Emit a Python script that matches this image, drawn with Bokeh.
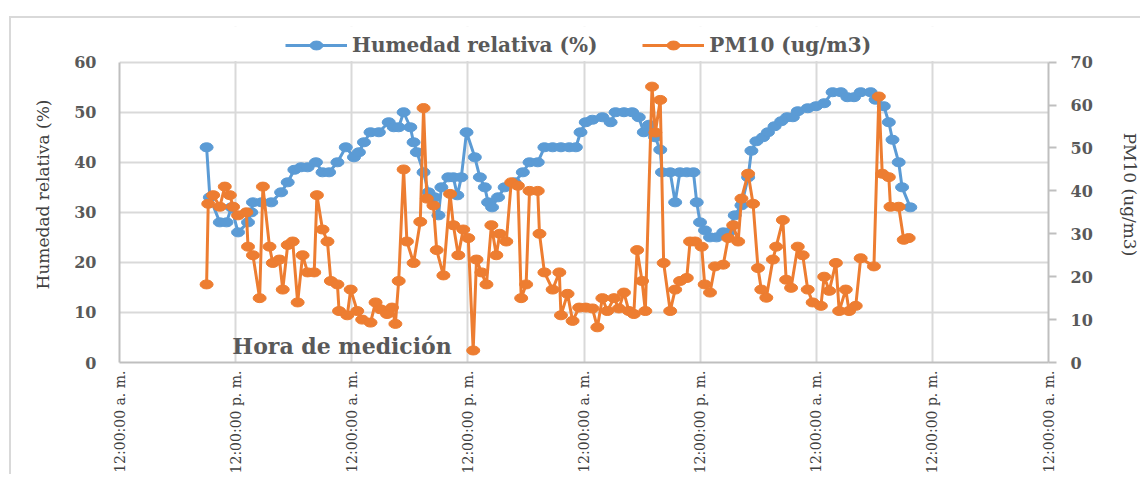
from math import pi
from bokeh.plotting import figure
from bokeh.models import (Range1d, LinearAxis, FixedTicker, Label, Legend, LegendItem,
                          ColumnDataSource, BoxAnnotation)
from bokeh.embed import file_html
from bokeh.resources import INLINE

# ---- data ----
tick_hours = [0, 12, 24, 36, 48, 60, 72, 84, 96]
tick_labels = ["12:00:00 a. m.", "12:00:00 p. m.", "12:00:00 a. m.", "12:00:00 p. m.",
               "12:00:00 a. m.", "12:00:00 p. m.", "12:00:00 a. m.", "12:00:00 p. m.",
               "12:00:00 a. m."]
hum_ticks = [0, 10, 20, 30, 40, 50, 60]
pm_ticks = [0, 10, 20, 30, 40, 50, 60, 70]

horas_hum = [9.00, 9.34, 10.37, 11.06, 11.57, 12.25, 13.28, 13.62, 13.79, 14.68, 15.68, 16.70,
             17.38, 18.07, 18.76, 19.44, 20.30, 20.98, 21.66, 22.52, 23.38, 24.23, 24.74, 25.26,
             25.94, 26.80, 27.82, 28.34, 28.85, 29.36, 30.05, 30.39, 30.73, 31.42, 31.93, 32.55,
             32.96, 33.26, 33.98, 34.50, 34.91, 35.32, 35.86, 36.72, 37.24, 37.75, 38.09, 38.50,
             39.12, 39.80, 40.83, 41.68, 42.37, 43.22, 43.91, 44.76, 45.62, 46.48, 47.16, 47.64,
             48.18, 48.87, 49.90, 50.75, 51.26, 52.13, 52.98, 53.66, 54.18, 54.72, 55.34, 55.88,
             56.06, 56.91, 57.42, 57.91, 58.62, 59.31, 59.65, 59.99, 60.50, 61.02, 61.70, 62.39,
             62.94, 63.58, 64.27, 64.96, 65.30, 65.81, 66.50, 67.01, 67.69, 68.38, 68.99, 69.58,
             70.09, 71.12, 71.97, 72.82, 73.69, 74.54, 75.22, 75.90, 76.59, 77.62, 78.13, 78.98,
             79.50, 79.88, 80.52, 80.87, 81.72]
humedad = [43, 33, 28, 28, 31, 26, 28, 30, 32, 32, 32, 34,
           36, 38.5, 39, 39, 40, 38, 38, 40, 43, 41, 42, 44,
           46, 46, 48, 47, 47, 50, 47, 44, 42, 38, 34, 33,
           29.4, 35, 37, 37, 33.4, 37, 46, 41, 37, 35, 32, 31,
           33, 35, 36, 38, 40, 40, 43, 43, 43, 43, 43, 46,
           48, 48.5, 49, 48, 50, 50, 50, 49, 46, 47.5, 45, 42.5,
           38, 38, 32, 38, 38, 38, 32, 28, 26.4, 25, 25, 26,
           26, 29.4, 31.4, 37, 42.3, 44.2, 45, 46, 47.2, 48.2, 49, 49,
           50.2, 50.8, 51.2, 51.8, 54, 54, 53, 53, 54, 54, 52.5, 51.2,
           48, 44.5, 40, 35, 31]

horas_pm = [9.00, 9.17, 9.68, 10.37, 10.88, 11.40, 11.74, 12.25, 13.11, 13.28, 13.79, 14.48,
            14.82, 15.50, 15.84, 16.53, 16.87, 17.38, 17.90, 18.41, 18.92, 19.44, 20.12, 20.40,
            20.98, 21.49, 21.84, 22.52, 22.69, 23.54, 23.89, 24.57, 25.08, 25.94, 26.46, 26.97,
            27.65, 28.16, 28.51, 28.85, 29.36, 29.70, 30.39, 31.08, 31.42, 31.76, 32.44, 32.78,
            33.47, 34.16, 34.50, 35.01, 35.52, 36.04, 36.55, 36.89, 37.40, 37.92, 38.43, 38.94,
            39.29, 39.97, 40.48, 41.17, 41.51, 42.02, 42.37, 43.22, 43.40, 43.91, 44.76, 45.45,
            45.62, 46.30, 46.82, 47.50, 48.18, 48.87, 49.38, 49.90, 50.41, 51.10, 51.61, 52.13,
            52.64, 53.15, 53.49, 54.00, 54.34, 55.03, 55.37, 55.88, 56.23, 56.91, 57.42, 57.93,
            58.62, 58.96, 59.48, 60.16, 60.47, 61.02, 61.53, 62.39, 62.90, 63.42, 63.93, 64.27,
            64.96, 65.47, 65.98, 66.32, 66.84, 67.52, 67.86, 68.55, 68.89, 69.40, 70.09, 70.60,
            71.12, 71.63, 72.48, 72.82, 73.34, 74.03, 74.37, 75.05, 75.39, 76.08, 76.59, 77.96,
            78.47, 78.82, 79.50, 79.67, 80.52, 81.04, 81.55]
pm10 = [18.2, 37, 39, 36.3, 41, 39, 36.3, 34.3, 35, 27, 25, 15,
        41, 27, 23.2, 24, 17, 27.4, 28.2, 14, 25, 21, 21, 39,
        31, 28.2, 19, 18.2, 12, 11, 17, 12, 10, 9.3, 14, 12.4,
        11.3, 12.8, 9, 19, 45, 28.2, 23.2, 32.8, 59.3, 38.2, 36.6, 26.2,
        20.3, 39.3, 32, 25, 31, 29, 2.8, 24, 21, 18.2, 32, 25,
        30, 28.2, 42, 41.2, 15, 18.2, 40, 40, 30, 21, 17, 21,
        11, 16, 9.7, 12.8, 12.8, 12.6, 8.2, 15, 12, 15, 12.6, 16.3,
        12, 11.3, 26.2, 19, 12, 64.3, 53.6, 61.2, 23.2, 12, 17, 19,
        19.7, 28.2, 28.2, 27, 18.2, 16.3, 22.4, 22.8, 29, 32, 28.2, 38.2,
        44, 37, 22, 17, 15.1, 24, 27, 33.2, 19.3, 17.4, 27, 25,
        17, 14, 13.2, 20, 16.7, 23.2, 12, 17, 12, 13.2, 24.3, 22.4,
        62, 44, 43.2, 36.3, 36.3, 28.6, 29]

# ---- styles / layout ----
BLUE = "#5b9bd5"
ORANGE = "#ed7d31"
GRID = "#d9d9d9"
AXIS = "#bfbfbf"
TXT = "#595959"
FONT = "DejaVu Serif"

HUM_MAX, PM_MAX = 60, 70
# the frame reaches above the 60 line so that the legend can sit over the plot area
EXTRA = 339 / 303
p = figure(width=1131, height=458, output_backend="svg", toolbar_location=None,
           x_range=Range1d(0, 96), y_range=Range1d(0, HUM_MAX * EXTRA),
           min_border_left=108, min_border_right=88, min_border_top=8, min_border_bottom=100,
           margin=(16, 0, 0, 9), background_fill_color="white", border_fill_color="white")
p.styles = {"border-left": "2px solid #d9d9d9", "border-top": "2px solid #d9d9d9"}
p.outline_line_color = None
p.extra_y_ranges = {"pm": Range1d(0, PM_MAX * EXTRA)}

# x axis
xa = p.xaxis[0]
xa.ticker = FixedTicker(ticks=tick_hours)
xa.major_label_overrides = {h: lab for h, lab in zip(tick_hours, tick_labels)}
xa.major_label_orientation = pi / 2
xa.major_label_text_font = FONT
xa.major_label_text_font_size = "14px"
xa.major_label_text_color = "#404040"
xa.major_label_standoff = 8
xa.major_tick_out = 0
xa.major_tick_in = 0
xa.minor_tick_line_color = None
xa.axis_line_color = AXIS
xa.axis_line_width = 2

# left axis
ya = p.yaxis[0]
ya.ticker = FixedTicker(ticks=hum_ticks)
ya.bounds = (0, HUM_MAX)
ya.axis_label = "Humedad relativa (%)"
ya.axis_label_text_font = FONT
ya.axis_label_text_font_style = "normal"
ya.axis_label_text_font_size = "17px"
ya.axis_label_text_color = "#404040"
ya.axis_label_standoff = 18
ya.major_label_text_font = FONT
ya.major_label_text_font_style = "bold"
ya.major_label_text_font_size = "16px"
ya.major_label_text_color = TXT
ya.major_label_standoff = 23
ya.major_tick_out = 0
ya.major_tick_in = 0
ya.minor_tick_line_color = None
ya.axis_line_color = AXIS
ya.axis_line_width = 2

# right axis
ra = LinearAxis(y_range_name="pm", ticker=FixedTicker(ticks=pm_ticks), bounds=(0, PM_MAX))
ra.axis_label = "PM10 (ug/m3)"
ra.axis_label_text_font = FONT
ra.axis_label_text_font_style = "normal"
ra.axis_label_text_font_size = "17px"
ra.axis_label_text_color = "#404040"
ra.axis_label_standoff = 24
ra.major_label_text_font = FONT
ra.major_label_text_font_style = "bold"
ra.major_label_text_font_size = "16px"
ra.major_label_text_color = TXT
ra.major_label_standoff = 14
ra.major_tick_out = 8
ra.major_tick_in = 0
ra.major_tick_line_color = AXIS
ra.major_tick_line_width = 2
ra.minor_tick_line_color = None
ra.axis_line_color = AXIS
ra.axis_line_width = 2
p.add_layout(ra, "right")

# grids
p.xgrid.ticker = FixedTicker(ticks=tick_hours)
p.xgrid.grid_line_color = GRID
p.xgrid.grid_line_width = 2
p.ygrid.grid_line_color = GRID
p.ygrid.grid_line_width = 2

# blank the band above the 60 line (legend area)
p.add_layout(BoxAnnotation(bottom=HUM_MAX + 0.25, fill_color="white", fill_alpha=1,
                           line_color=None, level="underlay"))

src_h = ColumnDataSource(dict(x=horas_hum, y=humedad))
src_p = ColumnDataSource(dict(x=horas_pm, y=pm10))

l1 = p.line("x", "y", source=src_h, line_color=BLUE, line_width=3)
m1 = p.ellipse("x", "y", source=src_h, width=13, height=9, width_units="screen", height_units="screen",
               fill_color=BLUE, line_color=BLUE)
l2 = p.line("x", "y", source=src_p, line_color=ORANGE, line_width=3, y_range_name="pm")
m2 = p.ellipse("x", "y", source=src_p, width=13, height=9, width_units="screen", height_units="screen",
               fill_color=ORANGE, line_color=ORANGE, y_range_name="pm")

legend = Legend(items=[LegendItem(label="Humedad relativa (%)", renderers=[l1, m1]),
                       LegendItem(label="PM10 (ug/m3)", renderers=[l2, m2])],
                orientation="horizontal", location=(166, 305),
                border_line_color=None, background_fill_alpha=0,
                label_text_font=FONT, label_text_font_style="bold", label_text_font_size="20px",
                label_text_color=TXT, glyph_width=62, glyph_height=16, spacing=45,
                label_standoff=5, padding=4, margin=0)
p.add_layout(legend, "center")

p.add_layout(Label(x=23, y=0.6, text="Hora de medición", text_align="center", text_baseline="bottom",
                   text_font=FONT, text_font_style="bold", text_font_size="22px", text_color=TXT))

open("out.html", "w").write(file_html(p, INLINE))
